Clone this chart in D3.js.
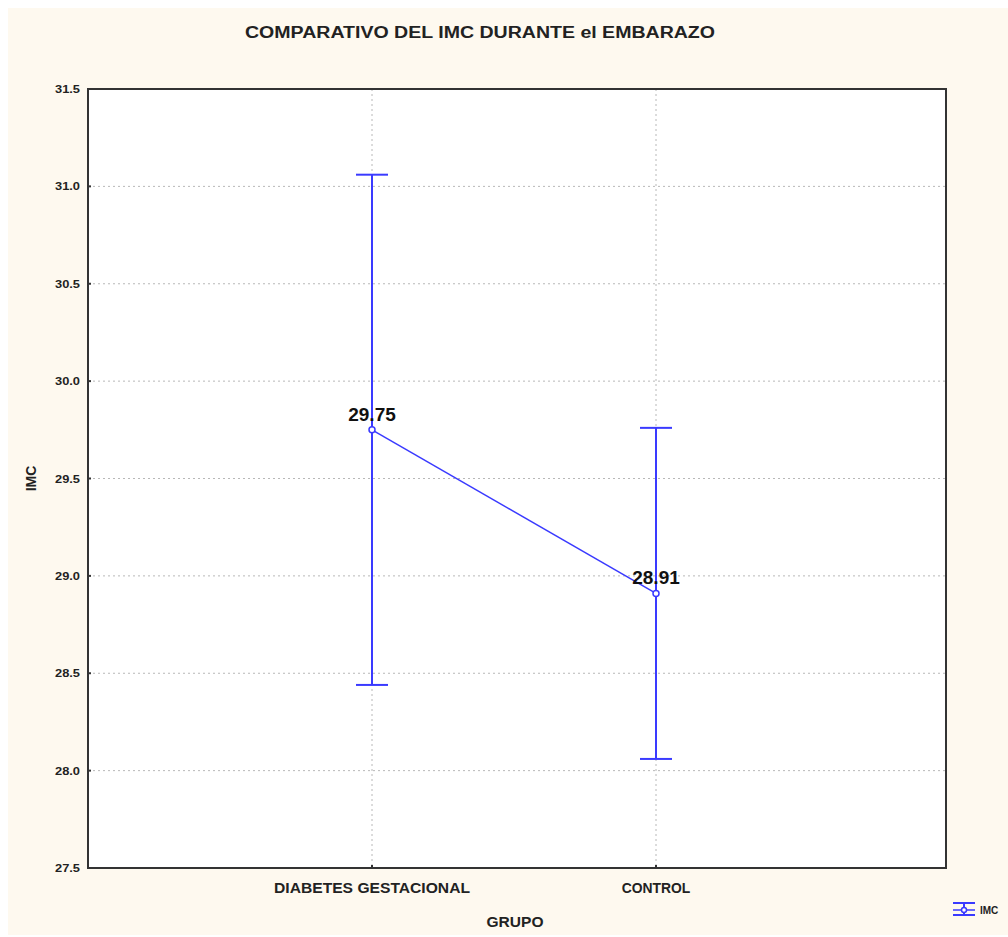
<!DOCTYPE html>
<html>
<head>
  <meta charset="UTF-8">
  <title>IMC</title>
  <style>
    body{ margin:0; background:#fff; }
    svg text{ font-family: 'Liberation Sans', Arial, sans-serif; font-weight:bold; fill:#222; }
    .grid line{ stroke:#b8b8b8; stroke-dasharray:2,3; }
  </style>
</head>
<body>
  <script src="https://d3js.org/d3.v7.min.js"></script>
  <script>
    var groups = ["DIABETES GESTACIONAL", "CONTROL"];
    var means = [29.75, 28.91];
    var upper = [31.06, 29.76];
    var lower = [28.44, 28.06];
    var yTicks = [27.5, 28.0, 28.5, 29.0, 29.5, 30.0, 30.5, 31.0, 31.5];

    var width = 1008, height = 937;
    var margin = {top: 89, right: 62, bottom: 69, left: 88};
    var blue = "#3a3aff";

    var svg = d3.select("body").append("svg")
        .attr("width", width)
        .attr("height", height);

    svg.append("rect")
        .attr("x", 8).attr("y", 8)
        .attr("width", width - 8).attr("height", 927)
        .attr("fill", "#fef9ef");

    // categories sit at 1/3 and 2/3 of the frame (slightly left)
    var x = d3.scalePoint().domain(groups)
        .range([margin.left, width - margin.right - 6]).padding(1);
    var y = d3.scaleLinear().domain([27.5, 31.5])
        .range([height - margin.bottom, margin.top]);

    svg.append("rect")
        .attr("x", margin.left).attr("y", margin.top)
        .attr("width", width - margin.left - margin.right)
        .attr("height", height - margin.top - margin.bottom)
        .attr("fill", "#fff");

    var grid = svg.append("g").attr("class", "grid");
    grid.selectAll("line.h").data(yTicks.slice(1, -1)).enter().append("line")
        .attr("class", "h")
        .attr("x1", margin.left).attr("x2", width - margin.right)
        .attr("y1", function(d) { return y(d); }).attr("y2", function(d) { return y(d); });
    grid.selectAll("line.v").data(groups).enter().append("line")
        .attr("class", "v")
        .attr("y1", margin.top).attr("y2", height - margin.bottom)
        .attr("x1", function(d) { return x(d); }).attr("x2", function(d) { return x(d); });

    // y tick labels + small ticks
    svg.selectAll("text.ytick").data(yTicks).enter().append("text")
        .attr("class", "ytick")
        .attr("x", 80)
        .attr("y", function(d) { return y(d) + 4; })
        .attr("text-anchor", "end")
        .style("font-size", "11px")
        .attr("textLength", 25).attr("lengthAdjust", "spacingAndGlyphs")
        .text(function(d) { return d3.format(".1f")(d); });
    svg.selectAll("line.ytk").data(yTicks).enter().append("line")
        .attr("x1", margin.left).attr("x2", margin.left + 3)
        .attr("y1", function(d) { return y(d); }).attr("y2", function(d) { return y(d); })
        .attr("stroke", "#333").attr("stroke-width", 2);
    svg.selectAll("line.xtk").data(groups).enter().append("line")
        .attr("y1", height - margin.bottom).attr("y2", height - margin.bottom - 3)
        .attr("x1", function(d) { return x(d); }).attr("x2", function(d) { return x(d); })
        .attr("stroke", "#333").attr("stroke-width", 2);

    // frame
    svg.append("rect")
        .attr("x", margin.left).attr("y", margin.top)
        .attr("width", width - margin.left - margin.right)
        .attr("height", height - margin.top - margin.bottom)
        .attr("fill", "none").attr("stroke", "#333").attr("stroke-width", 2);

    // x labels
    svg.selectAll("text.xlab").data(groups).enter().append("text")
        .attr("x", function(d) { return x(d); })
        .attr("y", 893)
        .attr("text-anchor", "middle")
        .style("font-size", "14px")
        .attr("textLength", function(d) { return d.length * 9.8; })
        .attr("lengthAdjust", "spacingAndGlyphs")
        .text(function(d) { return d; });

    svg.append("text")
        .attr("x", 515).attr("y", 927)
        .attr("text-anchor", "middle")
        .style("font-size", "14px")
        .attr("textLength", 57).attr("lengthAdjust", "spacingAndGlyphs")
        .text("GRUPO");

    svg.append("text")
        .attr("transform", "translate(36," + y(29.5) + ") rotate(-90)")
        .attr("text-anchor", "middle")
        .style("font-size", "14px")
        .text("IMC");

    svg.append("text")
        .attr("x", 480).attr("y", 38)
        .attr("text-anchor", "middle")
        .style("font-size", "16px")
        .attr("textLength", 470).attr("lengthAdjust", "spacingAndGlyphs")
        .text("COMPARATIVO DEL IMC DURANTE el EMBARAZO");

    // error bars
    var eb = svg.append("g").attr("stroke", blue).attr("stroke-width", 2);
    groups.forEach(function(g, i) {
      eb.append("line")
        .attr("x1", x(g)).attr("x2", x(g))
        .attr("y1", y(upper[i])).attr("y2", y(lower[i]));
      [upper[i], lower[i]].forEach(function(v) {
        eb.append("line")
          .attr("x1", x(g) - 16).attr("x2", x(g) + 16)
          .attr("y1", y(v)).attr("y2", y(v));
      });
    });

    // mean line
    var line = d3.line()
        .x(function(d, i) { return x(groups[i]); })
        .y(function(d) { return y(d); });
    svg.append("path")
        .datum(means)
        .attr("d", line)
        .attr("fill", "none")
        .attr("stroke", blue).attr("stroke-width", 1.5);

    svg.selectAll("circle.m").data(means).enter().append("circle")
        .attr("cx", function(d, i) { return x(groups[i]); })
        .attr("cy", function(d) { return y(d); })
        .attr("r", 3)
        .attr("fill", "#fff").attr("stroke", blue).attr("stroke-width", 1.5);

    svg.selectAll("text.val").data(means).enter().append("text")
        .attr("x", function(d, i) { return x(groups[i]); })
        .attr("y", function(d) { return y(d) - 9; })
        .attr("text-anchor", "middle")
        .style("font-size", "19px")
        .style("fill", "#111")
        .text(function(d) { return d3.format(".2f")(d); });

    // legend
    var lg = svg.append("g").attr("transform", "translate(964,909)")
        .attr("stroke", blue).attr("stroke-width", 2);
    lg.append("line").attr("x1", -11).attr("x2", 11).attr("y1", -6).attr("y2", -6);
    lg.append("line").attr("x1", -11).attr("x2", 11).attr("y1", 6).attr("y2", 6);
    lg.append("line").attr("x1", 0).attr("x2", 0).attr("y1", -6).attr("y2", 6);
    lg.append("line").attr("x1", -11).attr("x2", 11).attr("y1", 1).attr("y2", 1).attr("stroke-width", 1.5);
    lg.append("circle").attr("r", 2.5).attr("cy", 1).attr("fill", "#fff").attr("stroke-width", 1.5);
    svg.append("text")
        .attr("x", 980).attr("y", 914)
        .style("font-size", "10px")
        .text("IMC");
  </script>
</body>
</html>
